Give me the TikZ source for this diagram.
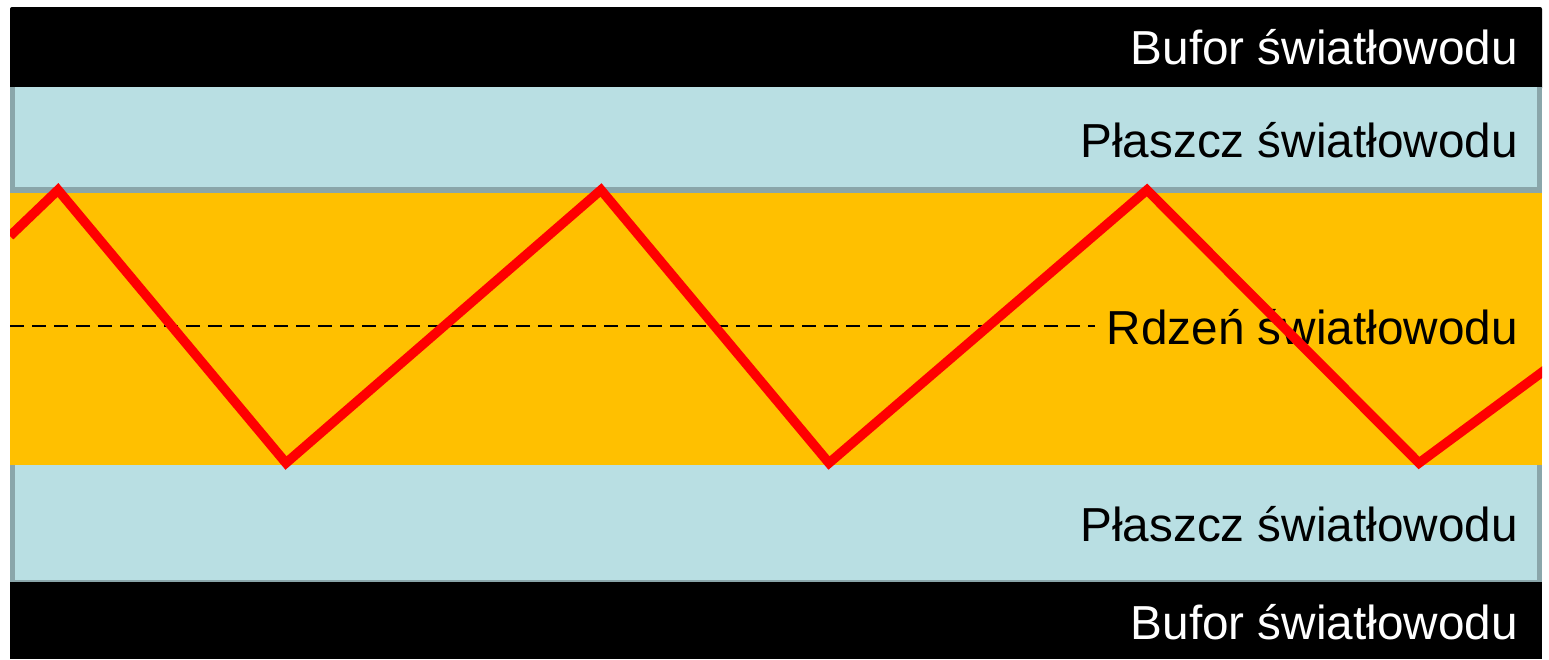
\documentclass[tikz,border=0pt]{standalone}
\usepackage{fontspec}
\setmainfont{Liberation Sans}
\definecolor{clad}{RGB}{185,223,227}
\definecolor{cladedge}{RGB}{138,166,170}
\definecolor{core}{RGB}{255,192,0}
\tikzset{
  lbl/.style={anchor=base east, inner sep=0pt, font=\fontsize{47.7}{50}\selectfont},
  ray/.style={draw=red, line width=9.5pt, line join=miter},
}
\begin{document}
\begin{tikzpicture}[x=1pt,y=-1pt]
\useasboundingbox (0,0) rectangle (1549,659);
% buffer bands
\fill[black, rounded corners=2pt] (10,7) rectangle (1542,90);
\fill[black] (10,580) rectangle (1542,659);
% cladding
\fill[cladedge] (10,87) rectangle (1542,193);
\fill[clad] (15,87) rectangle (1537,187);
\fill[cladedge] (10,463) rectangle (1542,582);
\fill[clad] (15,463) rectangle (1537,580);
% core
\fill[core] (10,193) rectangle (1542,465);
% axis
\draw[black, line width=2.7pt, dash pattern=on 14pt off 8pt] (10,326) -- (1095,326);
% labels
\node[lbl, text=white] (b1) at (1518,64) {Bufor światłowodu};
\node[lbl] (p1) at (1518,157) {Płaszcz światłowodu};
\node[lbl] (r) at (1518,344) {Rdzeń światłowodu};
\node[lbl] (p2) at (1518,541) {Płaszcz światłowodu};
\node[lbl, text=white] (b2) at (1518,639) {Bufor światłowodu};
% ray
\begin{scope}
\clip (10,0) rectangle (1542,659);
\draw[ray] (10,236) -- (58,190) -- (286,463) -- (601,190) -- (829,463) -- (1147,190) -- (1419,463) -- (1545,370);
\end{scope}
\end{tikzpicture}
\end{document}
